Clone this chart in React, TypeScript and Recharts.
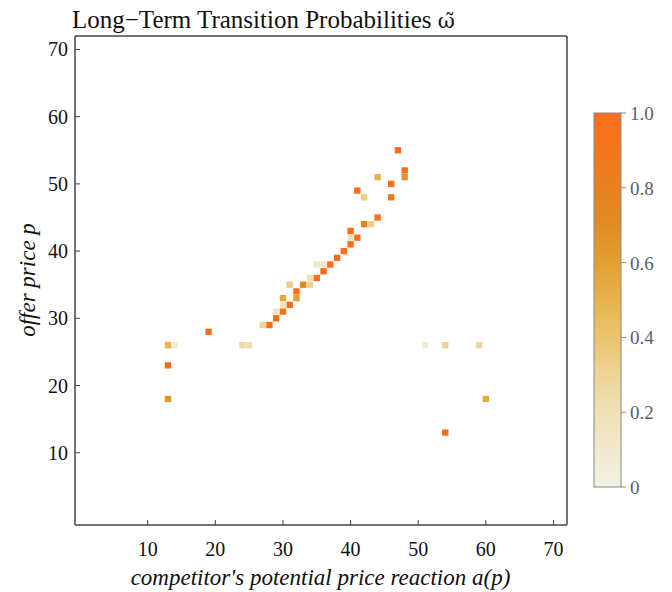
import { Scatter, ScatterChart, XAxis, YAxis } from 'recharts';

// long-term transition cells: reaction price a(p), offer price p, probability
const reactionPrices = [
  13, 14, 13, 13, 19, 24, 25, 27, 28, 29, 29, 30, 30, 30, 31, 31, 32, 32, 33, 34,
  34, 35, 36, 35, 36, 37, 38, 39, 40, 40, 41, 40, 42, 43, 44, 42, 41, 46, 46, 44,
  48, 48, 47, 51, 54, 59, 60, 54,
];
const offerPrices = [
  26, 26, 23, 18, 28, 26, 26, 29, 29, 30, 31, 31, 32, 33, 32, 35, 33, 34, 35, 35,
  36, 36, 37, 38, 38, 38, 39, 40, 41, 42, 42, 43, 44, 44, 45, 48, 49, 48, 50, 51,
  51, 52, 55, 26, 26, 26, 18, 13,
];
const probabilities = [
  0.5, 0.1, 1.0, 0.65, 1.0, 0.25, 0.22, 0.3, 1.0, 1.0, 0.12, 1.0, 0.15, 0.55, 1.0, 0.35, 0.6, 1.0, 0.75, 0.3,
  0.2, 1.0, 1.0, 0.12, 0.12, 1.0, 1.0, 1.0, 1.0, 0.2, 1.0, 1.0, 0.8, 0.35, 1.0, 0.35, 1.0, 0.85, 1.0, 0.5,
  0.65, 1.0, 1.0, 0.1, 0.3, 0.28, 0.55, 1.0,
];

const axisTicks = [10, 20, 30, 40, 50, 60, 70];
const colorbarTicks = [0, 0.2, 0.4, 0.6, 0.8, 1.0];
const colorbarLabels = ['0', '0.2', '0.4', '0.6', '0.8', '1.0'];

const data = reactionPrices.map((x, i) => ({
  x,
  y: offerPrices[i],
  prob: probabilities[i],
}));

const DOMAIN_MIN = -0.75;
const DOMAIN_MAX = 72;

// svg sits flush with the page top (body margin pulled back)
const W = 656;
const H = 592;
const margin = { top: 35, right: 96, bottom: 66, left: 66 };
const plotW = W - margin.left - margin.right - 1;
const plotH = H - margin.top - margin.bottom - 1;
const unitX = plotW / (DOMAIN_MAX - DOMAIN_MIN);
const unitY = plotH / (DOMAIN_MAX - DOMAIN_MIN);

const stops: [number, [number, number, number]][] = [
  [0, [244, 241, 225]],
  [0.15, [240, 230, 195]],
  [0.3, [237, 212, 149]],
  [0.45, [232, 188, 92]],
  [0.55, [229, 169, 60]],
  [0.68, [222, 142, 36]],
  [0.8, [232, 128, 32]],
  [1, [255, 108, 28]],
];

function colorFor(v: number) {
  for (let i = 1; i < stops.length; i++) {
    const [v1, c1] = stops[i];
    const [v0, c0] = stops[i - 1];
    if (v <= v1) {
      const t = (v - v0) / (v1 - v0);
      const c = c0.map((a, k) => Math.round(a + (c1[k] - a) * t));
      return `rgb(${c[0]},${c[1]},${c[2]})`;
    }
  }
  const c = stops[stops.length - 1][1];
  return `rgb(${c[0]},${c[1]},${c[2]})`;
}

const serif = '"Liberation Serif", "DejaVu Serif", serif';
const frame = { stroke: '#444', strokeWidth: 1.5 };

function CellShape(props: any) {
  const { cx, cy, payload } = props;
  const w = unitX * 0.94;
  const h = unitY * 0.94;
  return (
    <rect
      x={cx - w / 2}
      y={cy - h / 2}
      width={w}
      height={h}
      fill={colorFor(payload.prob)}
    />
  );
}

function BottomTick(props: any) {
  const { x, y, payload } = props;
  return (
    <g>
      <line x1={x} x2={x} y1={y} y2={y - 5} stroke="#444" strokeWidth={1} />
      <text x={x} y={y + 31} textAnchor="middle" fontSize={20} fontFamily={serif} fill="#111">
        {payload.value}
      </text>
    </g>
  );
}

function LeftTick(props: any) {
  const { x, y, payload } = props;
  return (
    <g>
      <line x1={x} x2={x + 5} y1={y} y2={y} stroke="#444" strokeWidth={1} />
      <text x={x - 7} y={y + 7} textAnchor="end" fontSize={20} fontFamily={serif} fill="#111">
        {payload.value}
      </text>
    </g>
  );
}

function Colorbar() {
  const left = 586;
  const top = 113;
  const bw = 27;
  const bh = 374;
  const gradStops = [0, 0.1, 0.2, 0.3, 0.4, 0.5, 0.6, 0.7, 0.8, 0.9, 1];
  return (
    <svg width={W} height={H} style={{ position: 'absolute', left: 0, top: 0, pointerEvents: 'none' }}>
      <defs>
        <linearGradient id="cbar" x1="0" y1="1" x2="0" y2="0">
          {gradStops.map((s) => (
            <stop key={s} offset={s} stopColor={colorFor(s)} />
          ))}
        </linearGradient>
      </defs>
      <rect x={left} y={top} width={bw} height={bh} fill="url(#cbar)" stroke="#888" strokeWidth={1} />
      {colorbarTicks.map((t, i) => {
        const yy = top + bh - t * bh;
        return (
          <g key={t}>
            <line x1={left + bw} x2={left + bw + 5} y1={yy} y2={yy} stroke="#888" />
            <text x={left + bw + 9} y={yy + 7} fontSize={19} fontFamily={serif} fill="#5a606b">
              {colorbarLabels[i]}
            </text>
          </g>
        );
      })}
    </svg>
  );
}

export default function App() {
  return (
    <div style={{ position: 'relative', width: W, height: H, marginTop: -8, fontFamily: serif }}>
      <ScatterChart width={W} height={H} margin={margin}>
        <XAxis
          type="number"
          dataKey="x"
          domain={[DOMAIN_MIN, DOMAIN_MAX]}
          ticks={axisTicks}
          allowDataOverflow
          height={1}
          tickSize={0}
          tickMargin={0}
          tickLine={false}
          tick={<BottomTick />}
          axisLine={frame}
        />
        <XAxis
          xAxisId="top"
          orientation="top"
          type="number"
          domain={[DOMAIN_MIN, DOMAIN_MAX]}
          height={1}
          tick={false}
          tickLine={false}
          axisLine={frame}
        />
        <YAxis
          type="number"
          dataKey="y"
          domain={[DOMAIN_MIN, DOMAIN_MAX]}
          ticks={axisTicks}
          allowDataOverflow
          width={1}
          tickSize={0}
          tickMargin={0}
          tickLine={false}
          tick={<LeftTick />}
          axisLine={frame}
        />
        <YAxis
          yAxisId="right"
          orientation="right"
          type="number"
          domain={[DOMAIN_MIN, DOMAIN_MAX]}
          width={1}
          tick={false}
          tickLine={false}
          axisLine={frame}
        />
        <Scatter data={data} shape={<CellShape />} isAnimationActive={false} />
        <text x={64} y={28} fontSize={25} fontFamily={serif} fill="#111">
          Long−Term Transition Probabilities{' '}
          <tspan fontFamily='"DejaVu Serif", serif' fontSize={21}>ω̃</tspan>
        </text>
        <text
          x={margin.left + plotW / 2}
          y={585}
          textAnchor="middle"
          fontSize={23}
          fontStyle="italic"
          fontFamily={serif}
          fill="#111"
        >
          competitor's potential price reaction a(p)
        </text>
        <text
          x={27}
          y={margin.top + plotH / 2}
          textAnchor="middle"
          fontSize={23}
          fontStyle="italic"
          fontFamily={serif}
          fill="#111"
          transform={`rotate(-90 27 ${margin.top + plotH / 2})`}
        >
          offer price p
        </text>
      </ScatterChart>
      <Colorbar />
    </div>
  );
}
